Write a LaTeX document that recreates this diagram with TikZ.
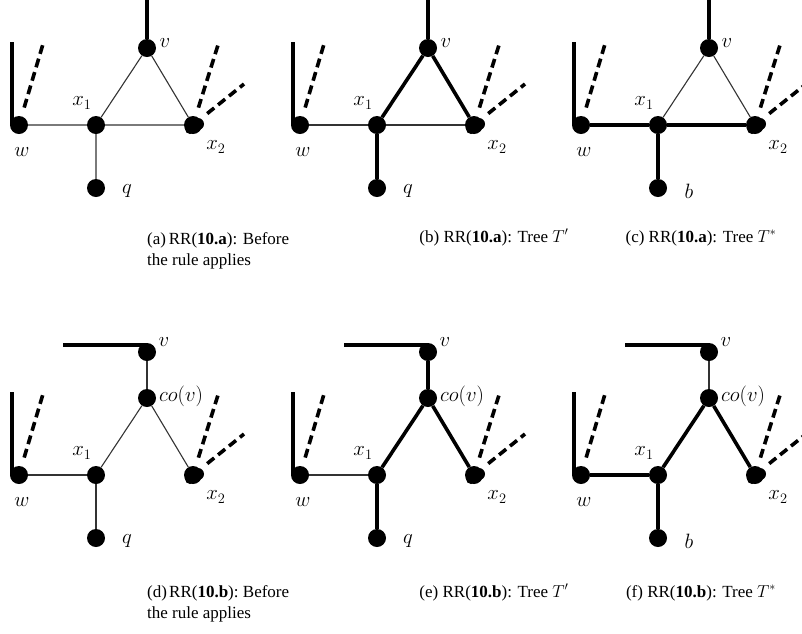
\documentclass[tikz,border=0pt]{standalone}
\usepackage{fontspec}
\setmainfont{Liberation Serif}
\begin{document}
\begin{tikzpicture}[x=1pt,y=-1pt]
\tikzset{
  vtx/.style={circle,fill=black,inner sep=0pt,minimum size=18pt},
  thinedge/.style={line width=1.1pt,draw=black!80},
  thickedge/.style={line width=3.6pt},
  stub/.style={line width=3.6pt,dash pattern=on 9pt off 5pt,shorten <=9pt},
  lbl/.style={font=\fontsize{20}{24}\selectfont,inner sep=0pt},
  captext/.style={font=\fontsize{17}{21}\selectfont,inner sep=0pt}
}
\useasboundingbox (0,0) rectangle (802,633);

% vertices and stubs shared by the triangle panels; #1 = leaf name
\newcommand\trinodes[1]{%
  \node[vtx] (v)  at (147,48)  {};
  \node[vtx] (x1) at (96,125)  {};
  \node[vtx] (w)  at (19,125)  {};
  \node[vtx] (x2) at (193,125) {};
  \node[vtx] (q)  at (96,188)  {};
  \fill ([shift={(5,-1)}]x2.center) circle (6pt);
  \fill ([shift={(-3,4)}]x2.center) circle (5pt);
  \coordinate (vt) at (147,0);
  \coordinate (wt) at (12,42);
  \coordinate (wd) at (43,44);
  \coordinate (d1) at (218,45);
  \coordinate (d2) at (244,84);
  \node[lbl] (lv)  at (165,43)  {$v$};
  \node[lbl] (lx1) at (82,103)  {$x_1$};
  \node[lbl] (lw)  at (22,152)  {$w$};
  \node[lbl] (lx2) at (216,147) {$x_2$};
  \node[lbl] (lq)  at (127,191) {$#1$};
  \draw[thickedge] (wt) -- (wt |- w);
  \draw[stub] (w) -- (wd);
  \draw[stub] (x2) -- (d1);
  \draw[stub] (x2) -- (d2);
}

% vertices and stubs shared by the fork panels; #1 = leaf name
\newcommand\forknodes[1]{%
  \node[vtx] (v)  at (147,2)   {};
  \node[vtx] (co) at (147,48)  {};
  \node[vtx] (x1) at (96,125)  {};
  \node[vtx] (w)  at (19,125)  {};
  \node[vtx] (x2) at (193,125) {};
  \node[vtx] (q)  at (96,188)  {};
  \fill ([shift={(5,-1)}]x2.center) circle (6pt);
  \fill ([shift={(-3,4)}]x2.center) circle (5pt);
  \coordinate (vl) at (63,-5);
  \coordinate (wt) at (12,42);
  \coordinate (wd) at (43,44);
  \coordinate (d1) at (218,45);
  \coordinate (d2) at (244,84);
  \node[lbl] (lv)  at (164,-8)  {$v$};
  \node[lbl,anchor=west] (lco) at (159,46) {$co(v)$};
  \node[lbl] (lx1) at (82,103)  {$x_1$};
  \node[lbl] (lw)  at (22,152)  {$w$};
  \node[lbl] (lx2) at (216,147) {$x_2$};
  \node[lbl] (lq)  at (127,191) {$#1$};
  \draw[thickedge] (wt) -- (wt |- w);
  \draw[stub] (w) -- (wd);
  \draw[stub] (x2) -- (d1);
  \draw[stub] (x2) -- (d2);
}

% (a) before the rule applies
\begin{scope}[name prefix=a-]
  \trinodes{q}
  \draw[thickedge] (v) -- (vt);
  \draw[thinedge] (w) -- (x1) -- (x2) -- (v) -- (x1) -- (q);
\end{scope}

% (b) tree T'
\begin{scope}[shift={(281,0)},name prefix=b-]
  \trinodes{q}
  \draw[thickedge] (v) -- (vt);
  \draw[thinedge] (w) -- (x1) -- (x2);
  \draw[thickedge] (q) -- (x1) -- (v) -- (x2);
\end{scope}

% (c) tree T*
\begin{scope}[shift={(562,0)},name prefix=c-]
  \trinodes{b}
  \draw[thickedge] (v) -- (vt);
  \draw[thinedge] (x1) -- (v) -- (x2);
  \draw[thickedge] (w) -- (x1) -- (x2);
  \draw[thickedge] (x1) -- (q);
\end{scope}

% (d) before the rule applies
\begin{scope}[shift={(0,350)},name prefix=d-]
  \forknodes{q}
  \draw[thickedge] (vl) -- (vl -| v);
  \draw[thinedge] (v) -- (co);
  \draw[thinedge] (x1) -- (co) -- (x2);
  \draw[thinedge] (w) -- (x1) -- (q);
\end{scope}

% (e) tree T'
\begin{scope}[shift={(281,350)},name prefix=e-]
  \forknodes{q}
  \draw[thickedge] (vl) -- (vl -| v);
  \draw[thickedge] (v) -- (co);
  \draw[thickedge] (x1) -- (co) -- (x2);
  \draw[thinedge] (w) -- (x1);
  \draw[thickedge] (x1) -- (q);
\end{scope}

% (f) tree T*
\begin{scope}[shift={(562,350)},name prefix=f-]
  \forknodes{b}
  \draw[thickedge] (vl) -- (vl -| v);
  \draw[thinedge] (v) -- (co);
  \draw[thickedge] (x1) -- (co) -- (x2);
  \draw[thickedge] (w) -- (x1) -- (q);
\end{scope}

% sub-captions
\node[captext,align=left,anchor=north west] (capa) at (147,232)
  {\makebox[142pt][l]{(a)\hfill RR(\textbf{10.a}):\hfill\hfill Before}\\the rule applies};
\node[captext,anchor=base] (capb) at (494,242) {(b) RR(\textbf{10.a}): Tree $T'$};
\node[captext,anchor=base] (capc) at (701,242) {(c) RR(\textbf{10.a}): Tree $T^{*}$};
\node[captext,align=left,anchor=north west] (capd) at (147,585)
  {\makebox[142pt][l]{(d)\hfill RR(\textbf{10.b}):\hfill\hfill Before}\\the rule applies};
\node[captext,anchor=base] (cape) at (494,597) {(e) RR(\textbf{10.b}): Tree $T'$};
\node[captext,anchor=base] (capf) at (701,597) {(f) RR(\textbf{10.b}): Tree $T^{*}$};
\end{tikzpicture}
\end{document}
